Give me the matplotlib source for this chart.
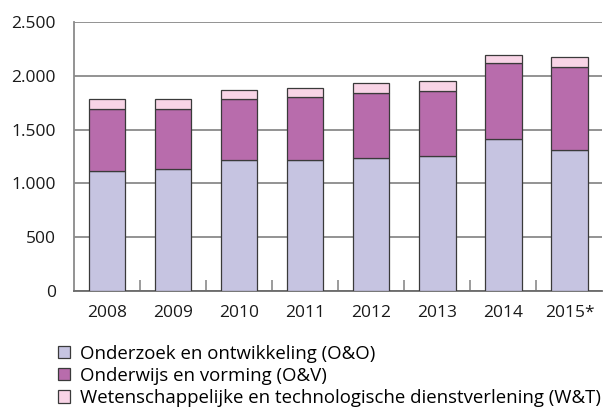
import numpy as np
import matplotlib
matplotlib.use("Agg")
import matplotlib.pyplot as plt
from matplotlib.ticker import FuncFormatter, FixedLocator

plt.rcParams['font.family'] = ['Open Sans', 'DejaVu Sans']

# Data
years = ['2008', '2009', '2010', '2011', '2012', '2013', '2014', '2015*']
ono = [1115, 1134, 1215, 1215, 1233, 1252, 1413, 1308]
onv = [574, 555, 572, 591, 607, 607, 703, 777]
wnt = [98, 98, 81, 81, 93, 93, 77, 87]
series_names = ['Onderzoek en ontwikkeling (O&O)',
                'Onderwijs en vorming (O&V)',
                'Wetenschappelijke en technologische dienstverlening (W&T)']
colors = ['#C6C4E1', '#B86CAC', '#F8D4E6']

fig = plt.figure(figsize=(6.04, 4.13), dpi=100)
ax = fig.add_axes([0.1225, 0.295, 0.875, 0.652])

x = np.arange(len(years))
width = 0.55
bottom = np.zeros(len(years))
handles = []
for vals, col, name in zip([ono, onv, wnt], colors, series_names):
    h = ax.bar(x, vals, width, bottom=bottom, color=col, edgecolor='#3a3a3a',
               linewidth=0.9, label=name, zorder=3)
    handles.append(h)
    bottom += np.array(vals)

ax.set_ylim(0, 2500)
ax.set_xlim(-0.5, len(years) - 0.5)
ax.set_yticks(np.arange(0, 2501, 500))
ax.yaxis.set_major_formatter(FuncFormatter(lambda v, p: f"{int(v):,}".replace(',', '.')))
ax.grid(axis='y', color='#8a8a8a', linewidth=1.3, zorder=0)

ax.set_xticks(x)
ax.set_xticklabels(years)
ax.xaxis.set_minor_locator(FixedLocator(x[:-1] + 0.5))
ax.tick_params(axis='x', which='major', length=0, pad=10, labelsize=12.5, colors='#1a1a1a')
ax.tick_params(axis='x', which='minor', direction='in', length=8, width=1.2, color='#8a8a8a')
ax.tick_params(axis='y', length=0, pad=13, labelsize=12.5, colors='#1a1a1a')

for s in ['top', 'right']:
    ax.spines[s].set_visible(False)
ax.spines['left'].set_color('#8a8a8a')
ax.spines['left'].set_linewidth(1.3)
ax.spines['bottom'].set_color('#6a6a6a')
ax.spines['bottom'].set_linewidth(1.3)

fig.legend(handles=handles, loc='upper left', bbox_to_anchor=(0.096, 0.165),
           frameon=False, fontsize=13.4, handlelength=0.63, handleheight=0.63,
           handletextpad=0.55, labelspacing=0.22, borderaxespad=0, borderpad=0)

fig.savefig('out.png', dpi=100)
